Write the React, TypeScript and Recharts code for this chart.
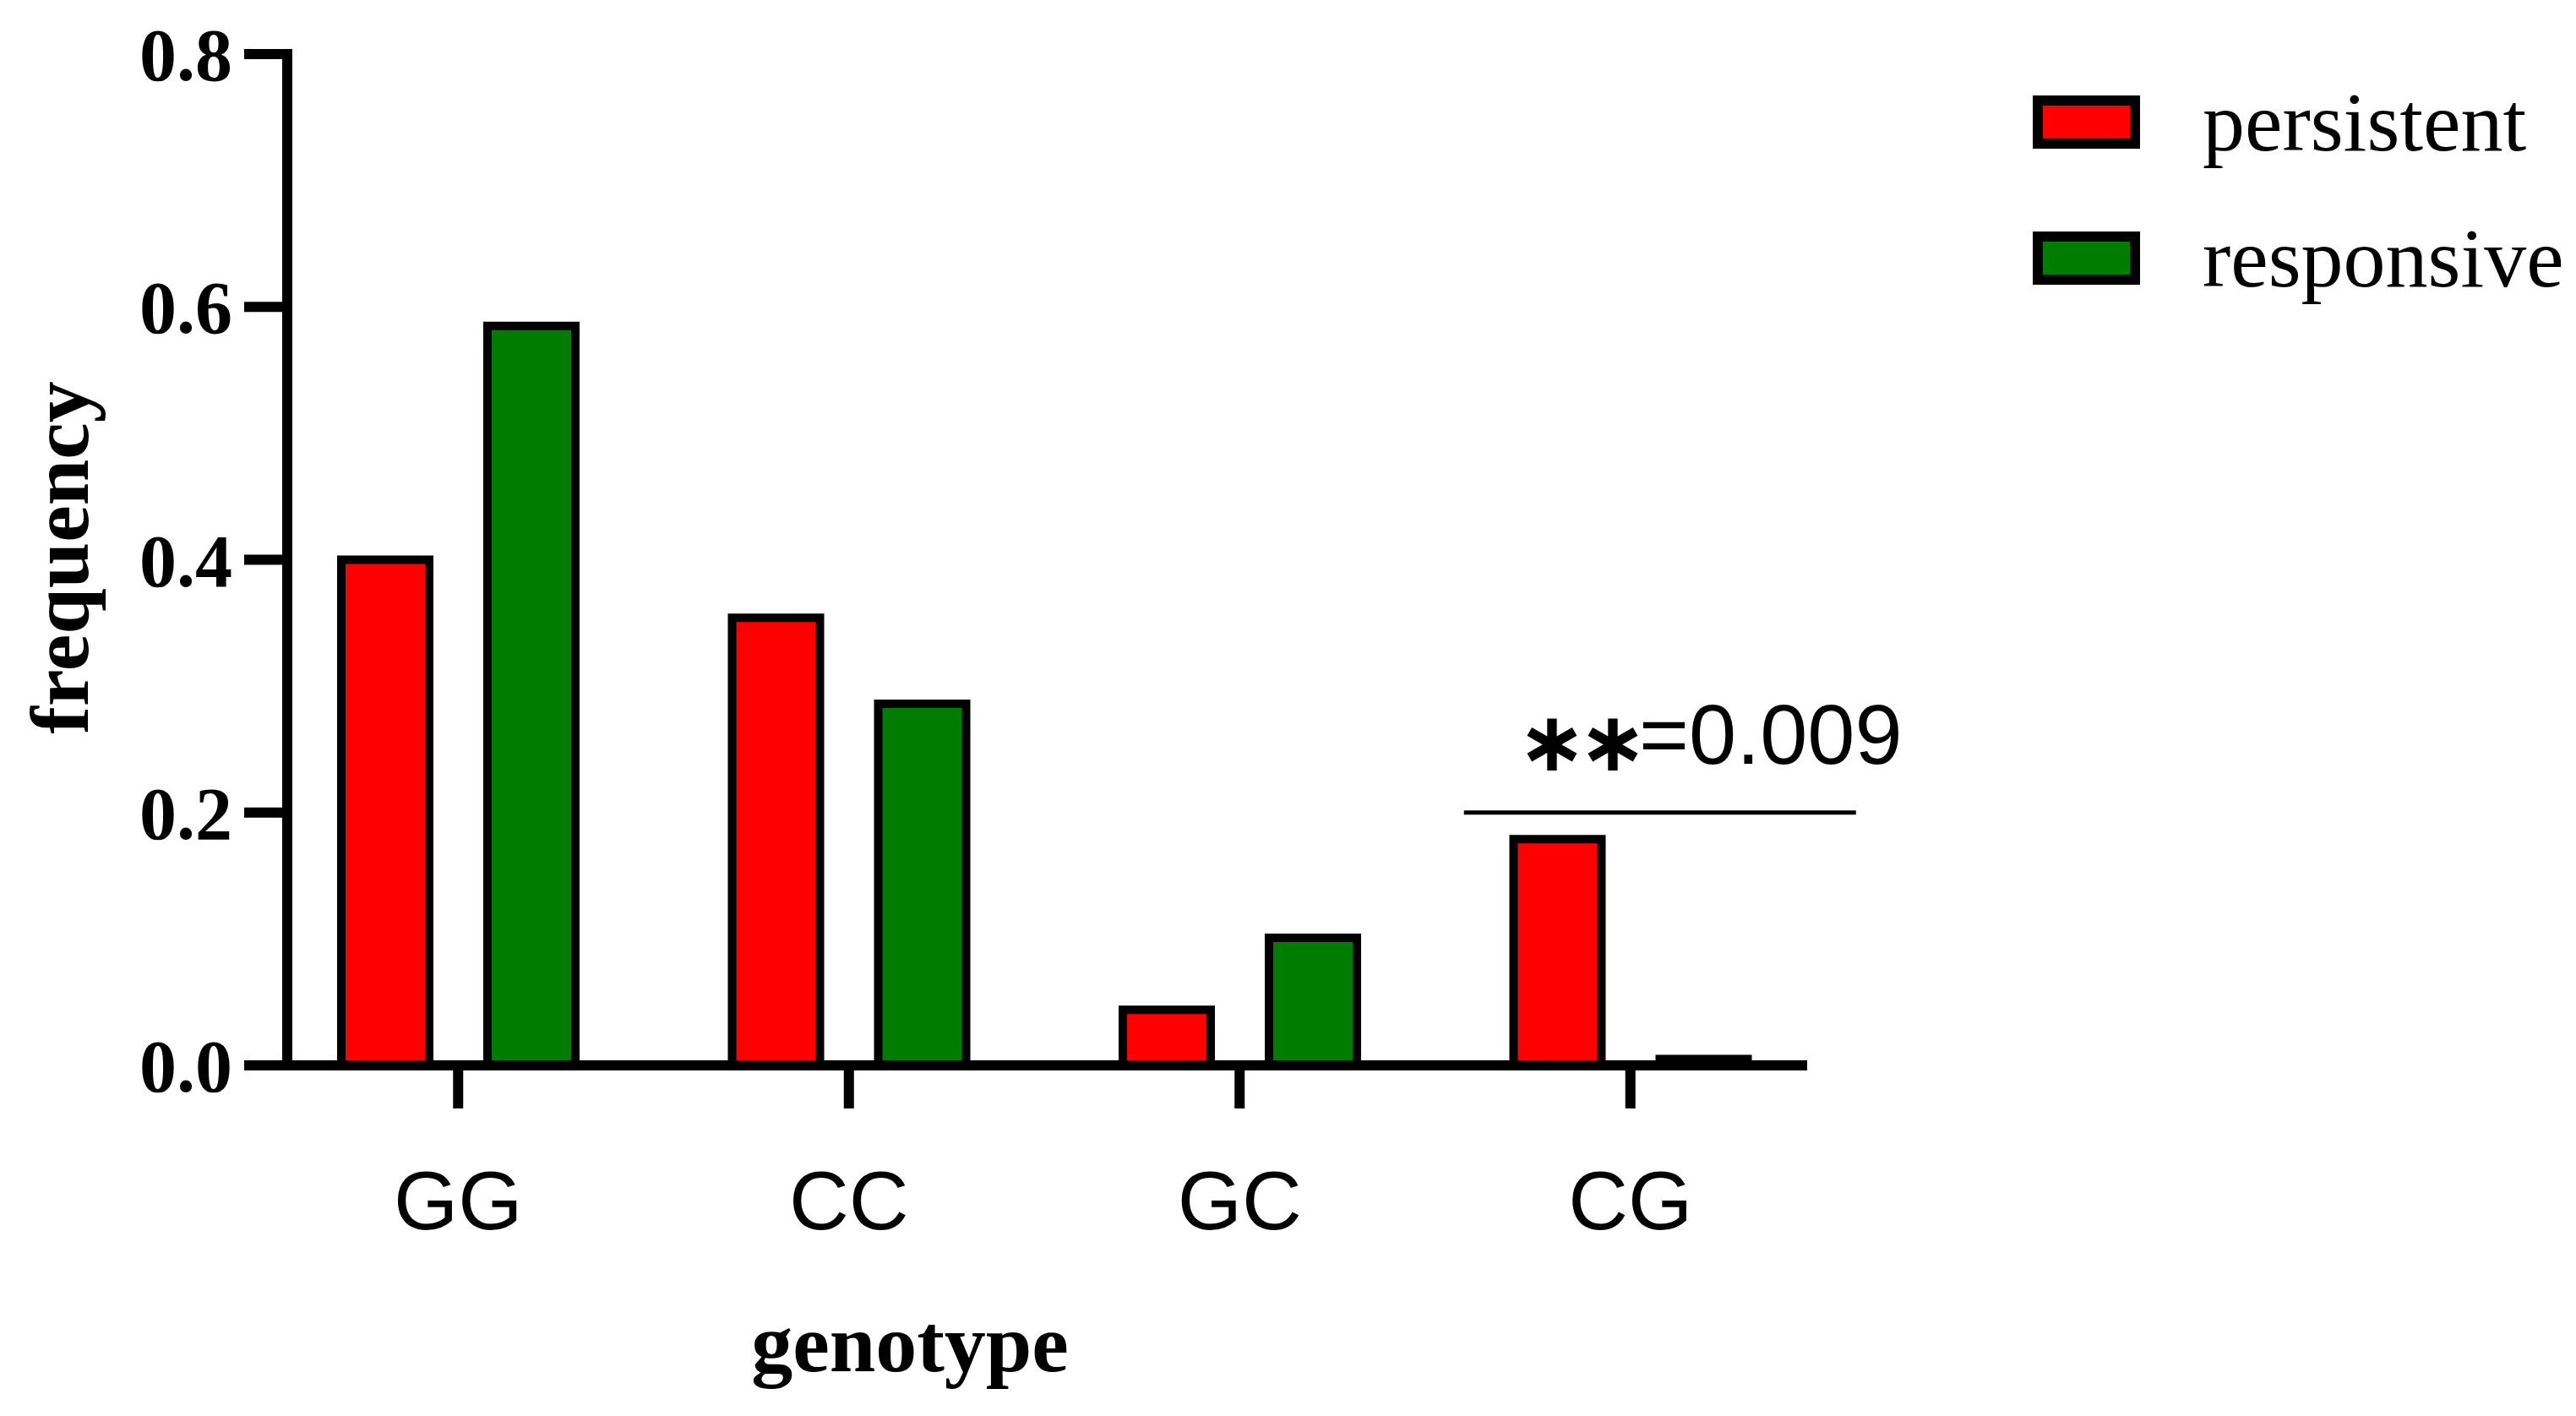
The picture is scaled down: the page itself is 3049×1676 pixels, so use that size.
// ** React
import React from 'react';

// ** Chart library
import { BarChart, Bar, XAxis, YAxis, Legend, ReferenceLine, Label } from 'recharts';

const genotypes = ['GG', 'CC', 'GC', 'CG'];
const persistent = [0.4, 0.354, 0.044, 0.179];
const responsive = [0.585, 0.286, 0.101, 0.005];
const yTicks = [0, 0.2, 0.4, 0.6, 0.8];

// significance bar drawn over the CG group
const sigGroup = 'CG';
const sigLevel = 0.2;
const sigText = '=0.009';

const RED = '#FF0000';
const GREEN = '#007C00';
const SERIF = '"Liberation Serif", "Times New Roman", serif';
const SANS = '"Liberation Sans", Arial, sans-serif';

const data = genotypes.map((g, i) => ({
  genotype: g,
  persistent: persistent[i],
  responsive: responsive[i],
}));

// legend drawn as a small svg overlay in the top right corner
const LegendBox = (props: any) => {
  const items = props.payload || [];
  return (
    <svg width={3049} height={400} style={{ display: 'block' }}>
      {items.map((item: any, i: number) => {
        const top = 119 + i * 161;
        return (
          <g key={item.value}>
            <rect x={2412} y={top} width={115} height={51} fill={item.color} stroke="#000" strokeWidth={12} />
            <text x={2607} y={top + 59} fontFamily={SERIF} fontSize={100} fill="#000">
              {item.value}
            </text>
          </g>
        );
      })}
    </svg>
  );
};

const SigMark = (props: any) => {
  const cx = props.x1;
  const y = props.y1;
  return (
    <g>
      <line x1={cx - 197} x2={cx + 267} y1={y} y2={y} stroke="#000" strokeWidth={5} />
      <text x={cx - 134} y={y - 58} fill="#000" fontFamily={SANS} fontSize={101}>
        <tspan
          fontFamily='"DejaVu Sans", sans-serif'
          fontWeight="bold"
          fontSize={98}
          letterSpacing={-10}
          dy={8}
        >
          ∗∗
        </tspan>
        <tspan dy={-8} dx={0}>
          {sigText}
        </tspan>
      </text>
    </g>
  );
};

const App: React.FC = () => {
  return (
    <div style={{ position: 'absolute', left: 0, top: 0, background: '#fff' }}>
      <BarChart
        width={3049}
        height={1676}
        data={data}
        margin={{ top: 64, right: 910, bottom: 215, left: 140 }}
        barSize={104}
        barGap={69}
      >
        <XAxis
          dataKey="genotype"
          height={200}
          padding={{ left: -29, right: -22 }}
          axisLine={{ stroke: '#000', strokeWidth: 12 }}
          tickLine={{ stroke: '#000', strokeWidth: 12 }}
          tickSize={51}
          tickMargin={73}
          tick={{ fill: '#000', fontFamily: SANS, fontSize: 98 }}
        >
          <Label
            content={() => (
              <text
                x={1077}
                y={1590}
                textAnchor="middle"
                dominantBaseline="central"
                fontFamily={SERIF}
                fontWeight="bold"
                fontSize={98}
                fill="#000"
              >
                genotype
              </text>
            )}
          />
        </XAxis>
        <YAxis
          type="number"
          width={200}
          domain={[0, 0.8]}
          ticks={yTicks}
          tickFormatter={(v: number) => v.toFixed(1)}
          axisLine={{ stroke: '#000', strokeWidth: 12, strokeLinecap: 'square' }}
          tickLine={{ stroke: '#000', strokeWidth: 12 }}
          tickSize={51}
          tickMargin={14}
          tick={{ fill: '#000', fontFamily: SERIF, fontWeight: 'bold', fontSize: 88 }}
        >
          <Label
            content={() => (
              <text
                x={104}
                y={660}
                transform="rotate(-90 104 660)"
                textAnchor="middle"
                fontFamily={SERIF}
                fontWeight="bold"
                fontSize={98}
                fill="#000"
              >
                frequency
              </text>
            )}
          />
        </YAxis>
        <Legend
          layout="vertical"
          verticalAlign="middle"
          align="center"
          content={<LegendBox />}
          wrapperStyle={{ position: 'absolute', left: 0, top: 0, width: 3049, height: 400 }}
        />
        <Bar dataKey="persistent" name="persistent" fill={RED} stroke="#000" strokeWidth={10} isAnimationActive={false} />
        <Bar dataKey="responsive" name="responsive" fill={GREEN} stroke="#000" strokeWidth={10} isAnimationActive={false} />
        <ReferenceLine
          segment={[
            { x: sigGroup, y: sigLevel },
            { x: sigGroup, y: sigLevel },
          ]}
          shape={<SigMark />}
        />
      </BarChart>
    </div>
  );
};

export default App;
